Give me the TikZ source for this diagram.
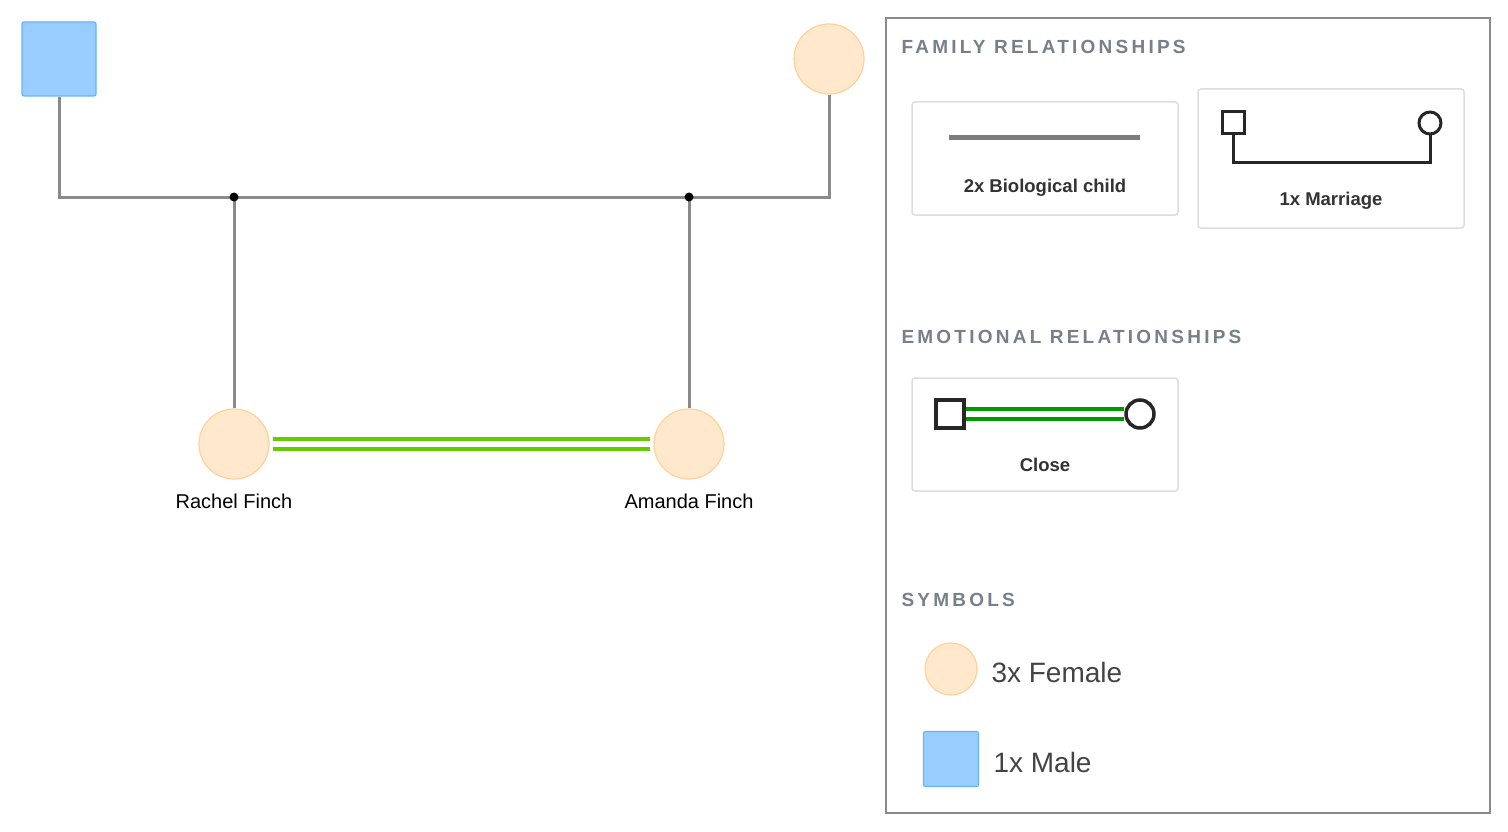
\documentclass[tikz,border=0pt]{standalone}
\usepackage{fontspec}
\setmainfont{Liberation Sans}
\begin{document}
\begin{tikzpicture}[x=1pt,y=-1pt,
 male/.style={draw=maleB,fill=maleF,line width=1.2,rounded corners=2},
 female/.style={circle,draw=femB,fill=femF,line width=1.2,inner sep=0},
 rel/.style={draw=relG,line width=3},
 card/.style={draw=cardB,line width=1.5,rounded corners=3},
 head/.style={anchor=west,text=headC,font=\fontsize{19}{21}\selectfont\bfseries\addfontfeature{LetterSpace=17}},
 lbl/.style={font=\fontsize{18.5}{21}\selectfont\bfseries,text=lblC},
 pname/.style={font=\fontsize{20}{23}\selectfont},
 sym/.style={anchor=west,font=\fontsize{28}{32}\selectfont,text=symC},
 blk/.style={draw=black!85,line width=3}]
\definecolor{maleB}{HTML}{66B3FF}\definecolor{maleF}{HTML}{99CCFF}
\definecolor{femB}{HTML}{FFD199}\definecolor{femF}{HTML}{FFE8CC}
\definecolor{relG}{HTML}{8A8A8A}\definecolor{cardB}{HTML}{DDDDDD}
\definecolor{headC}{HTML}{77808A}\definecolor{lblC}{HTML}{333333}
\definecolor{symC}{HTML}{444444}\definecolor{green1}{HTML}{66CC00}
\definecolor{green2}{HTML}{009900}
\useasboundingbox[fill=white] (0,0) rectangle (1508,832);
% tree
\node[male,minimum size=74,inner sep=0] (m) at (59,59) {};
\node[female,minimum size=70] (f) at (829,59) {};
\coordinate (j1) at (234,197); \coordinate (j2) at (689,197);
\draw[rel] (m.south) -- (59,197) -- (829,197) -- (f.south);
\node[female,minimum size=70] (r) at (234,444) {};
\node[female,minimum size=70] (a) at (689,444) {};
\draw[rel] (j1) -- (r.north); \draw[rel] (j2) -- (a.north);
\fill (j1) circle (4.5); \fill (j2) circle (4.5);
\draw[green1,line width=3.5] ([xshift=3,yshift=-5]r.east) -- ([xshift=-3,yshift=-5]a.west);
\draw[green1,line width=3.5] ([xshift=3,yshift=5]r.east) -- ([xshift=-3,yshift=5]a.west);
\node[pname] (rn) at (234,501) {Rachel Finch};
\node[pname] (an) at (689,501) {Amanda Finch};
% legend
\draw[relG,line width=2.5] (886,18) rectangle (1490,813);
\node[head] (h1) at (898,47) {FAMILY RELATIONSHIPS};
\draw[card] (912,102) rectangle (1178,215);
\draw[relG!90!black,line width=5] (949,138) -- (1140,138);
\node[lbl] (l1) at (1045,188) {2x Biological child};
\draw[card] (1198,89) rectangle (1464,228);
\node[draw=black!85,line width=3,minimum size=22,inner sep=0] (ms) at (1233,123) {};
\node[circle,draw=black!85,line width=3,minimum size=22,inner sep=0] (mc) at (1430,123) {};
\draw[blk] (ms.south) -- (1233,163) -- (1430,163) -- (mc.south);
\node[lbl] (l2) at (1331,201) {1x Marriage};
\node[head] (h2) at (898,337) {EMOTIONAL RELATIONSHIPS};
\draw[card] (912,378) rectangle (1178,491);
\node[draw=black!85,line width=3.5,minimum size=28,inner sep=0] (cs) at (950,414) {};
\node[circle,draw=black!85,line width=3.5,minimum size=28,inner sep=0] (cc) at (1140,414) {};
\draw[green2,line width=4] ([yshift=-5]cs.east) -- ([yshift=-5]cc.west);
\draw[green2,line width=4] ([yshift=5]cs.east) -- ([yshift=5]cc.west);
\node[lbl] (l3) at (1045,465) {Close};
\node[head] (h3) at (898,600) {SYMBOLS};
\node[female,minimum size=52] (sf) at (951,669) {};
\node[sym] (tf) at (988,672) {3x Female};
\node[male,minimum size=55,inner sep=0] (sm) at (951,759) {};
\node[sym] (tm) at (990,762) {1x Male};
\end{tikzpicture}
\end{document}
